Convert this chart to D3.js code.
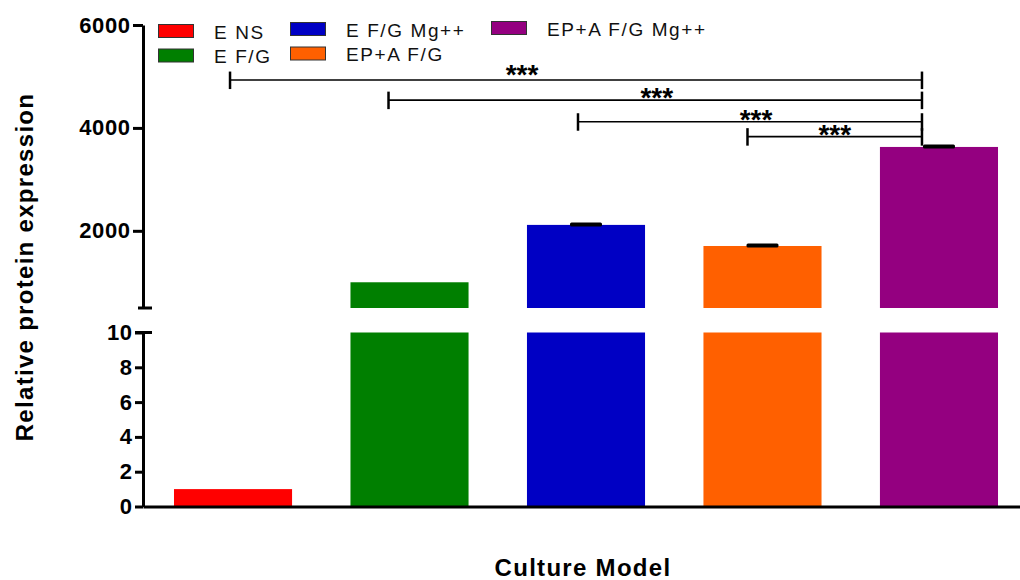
<!DOCTYPE html>
<html>
<head>
<meta charset="utf-8">
<script src="https://cdn.jsdelivr.net/npm/d3@7/dist/d3.min.js"></script>
<style>
  html, body { margin: 0; padding: 0; background: #fff; }
  svg { display: block; font-family: "Liberation Sans", Arial, sans-serif; }
</style>
</head>
<body>
<svg id="chart" width="1020" height="580"></svg>
<script>
// Relative protein expression per culture model (mean and SEM)
const categories = ["E NS", "E F/G", "E F/G Mg++", "EP+A F/G", "EP+A F/G Mg++"];
const means = [1, 1000, 2115, 1705, 3630];
const sem = [null, null, 10, 8, 10];
const colors = ["#ff0000", "#007f00", "#0000c4", "#ff6000", "#940080"];

// Broken y axis: lower and upper segments
const lowerDomain = [0, 10];
const upperDomain = [500, 6000];
const lowerTicks = [0, 2, 4, 6, 8, 10];
const upperTicks = [2000, 4000, 6000];

// Pairwise comparisons against EP+A F/G Mg++
const compFrom = [0, 1, 2, 3];
const compTo = [4, 4, 4, 4];
const compLevel = [4930, 4540, 4120, 3830];
const compLabel = ["***", "***", "***", "***"];

// Legend arrangement (column, row) for each category
const legendCol = [0, 0, 1, 1, 2];
const legendRow = [0, 1, 0, 1, 0];

const yTitle = "Relative protein expression";
const xTitle = "Culture Model";

// ---- layout ----
const svg = d3.select("#chart");
const axisX = 143;
const font = "Liberation Sans, Arial, sans-serif";

const x = d3.scaleBand()
  .domain(categories)
  .range([axisX, 1029])
  .paddingInner(0.331)
  .paddingOuter(0.1756);

const yLow = d3.scaleLinear().domain(lowerDomain).range([506.5, 332.5]);
const yUp = d3.scaleLinear().domain(upperDomain).range([308, 25]);

const data = categories.map((c, i) => ({ c, v: means[i], e: sem[i], color: colors[i] }));

// ---- bars ----
const bars = svg.append("g");
// lower segment (clipped at the top of the lower domain)
bars.selectAll("rect.low").data(data).join("rect")
  .attr("class", "low")
  .attr("x", d => x(d.c))
  .attr("width", x.bandwidth())
  .attr("y", d => yLow(Math.min(d.v, lowerDomain[1])))
  .attr("height", d => yLow(0) - yLow(Math.min(d.v, lowerDomain[1])))
  .attr("fill", d => d.color);
// upper segment
bars.selectAll("rect.up").data(data.filter(d => d.v > upperDomain[0])).join("rect")
  .attr("class", "up")
  .attr("x", d => x(d.c))
  .attr("width", x.bandwidth())
  .attr("y", d => yUp(d.v))
  .attr("height", d => yUp(upperDomain[0]) - yUp(d.v))
  .attr("fill", d => d.color);

// error caps (upper SEM)
bars.selectAll("rect.err").data(data.filter(d => d.e != null)).join("rect")
  .attr("class", "err")
  .attr("x", d => x(d.c) + x.bandwidth() / 2 - 16)
  .attr("width", 32)
  .attr("y", d => yUp(d.v + d.e) - 2)
  .attr("height", 4)
  .attr("rx", 1.5)
  .attr("fill", "#000");

// ---- axes ----
function styleAxis(g, size, spacing) {
  g.selectAll("path.domain").attr("stroke", "#000").attr("stroke-width", 3);
  g.selectAll(".tick line").attr("stroke", "#000").attr("stroke-width", 3);
  g.selectAll(".tick text")
    .attr("fill", "#000")
    .style("font-family", font)
    .style("font-size", size + "px")
    .style("font-weight", "bold")
    .style("letter-spacing", spacing + "px")
    .attr("dx", spacing);
}

const gUp = svg.append("g").attr("transform", `translate(${axisX},0)`)
  .call(d3.axisLeft(yUp).tickValues(upperTicks).tickFormat(d3.format("d"))
    .tickSize(10).tickSizeOuter(0).tickPadding(3));
styleAxis(gUp, 22, 0.6);

const gLow = svg.append("g").attr("transform", `translate(${axisX},0)`)
  .call(d3.axisLeft(yLow).tickValues(lowerTicks).tickFormat(d3.format("d"))
    .tickSize(8).tickSizeOuter(0).tickPadding(3));
styleAxis(gLow, 22, 0.6);

// break marks at the segment ends
[yUp(upperDomain[0]), yLow(lowerDomain[1])].forEach((yy, i) => {
  svg.append("line")
    .attr("x1", axisX - (i === 0 ? 5 : 8)).attr("x2", axisX + 9)
    .attr("y1", yy).attr("y2", yy)
    .attr("stroke", "#000").attr("stroke-width", 3);
});

const gX = svg.append("g").attr("transform", `translate(0,${yLow(0)})`)
  .call(d3.axisBottom(x).tickValues([]).tickSizeOuter(0));
gX.select("path.domain").attr("stroke", "#000").attr("stroke-width", 3);

// ---- significance brackets ----
const bracketEnds = [[-3, -17], [-21, -17], [-8, -17], [-15, -17]];
const labelShift = [-54, 1.5, 6, 0];
const gSig = svg.append("g");
compFrom.forEach((a, i) => {
  const b = compTo[i];
  const x1 = x(categories[a]) + x.bandwidth() / 2 + bracketEnds[i][0];
  const x2 = x(categories[b]) + x.bandwidth() / 2 + bracketEnds[i][1];
  const yy = yUp(compLevel[i]);
  gSig.append("line").attr("x1", x1).attr("x2", x2).attr("y1", yy).attr("y2", yy)
    .attr("stroke", "#000").attr("stroke-width", 1.6);
  [x1, x2].forEach(xx => {
    gSig.append("line").attr("x1", xx).attr("x2", xx).attr("y1", yy - 8.5).attr("y2", yy + 9)
      .attr("stroke", "#000").attr("stroke-width", 2.5);
  });
  gSig.append("text")
    .attr("x", (x1 + x2) / 2 + labelShift[i])
    .attr("y", yy + (i === 0 ? 4 : 7))
    .attr("text-anchor", "middle")
    .style("font-family", font)
    .style("font-size", "28px")
    .style("font-weight", "bold")
    .text(compLabel[i]);
});

// ---- legend ----
const colX = [158, 290, 491];
const colY = [24, 22, 21];
const rowStep = 24.5;
const gLeg = svg.append("g");
categories.forEach((c, i) => {
  const sx = colX[legendCol[i]];
  const sy = colY[legendCol[i]] + legendRow[i] * rowStep;
  gLeg.append("rect")
    .attr("x", sx + 0.5).attr("y", sy + 0.5)
    .attr("width", 35).attr("height", 13)
    .attr("fill", colors[i]).attr("stroke", "#333").attr("stroke-width", 1);
  gLeg.append("text")
    .attr("x", sx + 56).attr("y", sy + 14.5)
    .style("font-family", font)
    .style("font-size", "19px")
    .style("letter-spacing", "1.6px")
    .attr("fill", "#111")
    .text(c);
});

// ---- titles ----
svg.append("text")
  .attr("transform", "translate(33,267) rotate(-90)")
  .attr("text-anchor", "middle")
  .style("font-family", font)
  .style("font-size", "24px")
  .style("font-weight", "bold")
  .style("letter-spacing", "1.3px")
  .text(yTitle);

svg.append("text")
  .attr("x", 583).attr("y", 576)
  .attr("text-anchor", "middle")
  .style("font-family", font)
  .style("font-size", "24px")
  .style("font-weight", "bold")
  .style("letter-spacing", "1.3px")
  .text(xTitle);
</script>
</body>
</html>
